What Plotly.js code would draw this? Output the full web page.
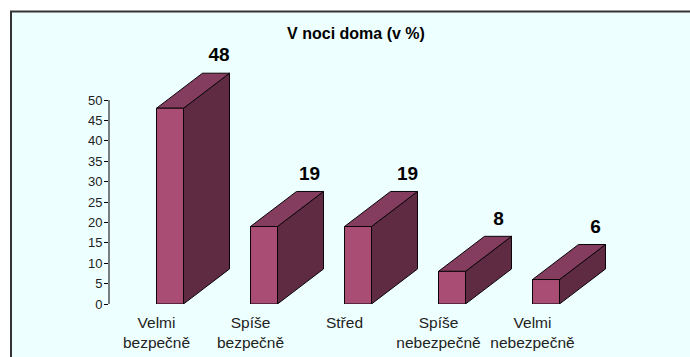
<!DOCTYPE html>
<html>
<head>
<meta charset="utf-8">
<script src="https://cdn.plot.ly/plotly-3.0.1.min.js"></script>
<style>html,body{margin:0;padding:0;background:#fff}#c{width:690px;height:357px}</style>
</head>
<body>
<div id="c"></div>
<script>
const categories = ["Velmi<br>bezpečně","Spíše<br>bezpečně","Střed","Spíše<br>nebezpečně","Velmi<br>nebezpečně"];
const values = [48,19,19,8,6];
const yTicks = [0,5,10,15,20,25,30,35,40,45,50];

const W=690,H=357,L=109,R=60,T=30,B=53.3;
const pxX=94, pxY=203.7/50;
const barW=27/pxX, dX=46/pxX, dY=35/pxY;
const x0=(156.5-L)/pxX;
const pw=W-L-R,ph=H-T-B;
const FRONT='#A94D75',TOP='#843D5F',SIDE='#5F2B43',EDGE='#0b0508';
const font='"Liberation Sans", Arial, sans-serif';
const labelDx=[62.5,59,63,60,63];

function poly(xs,ys,fc){return {type:'scatter',mode:'lines',x:xs,y:ys,fill:'toself',fillcolor:fc,
  line:{color:EDGE,width:1,shape:'linear'},hoverinfo:'skip',showlegend:false};}
const traces=[];
categories.forEach((c,i)=>{
  const v=values[i];
  traces.push(poly([i+barW,i+barW+dX,i+barW+dX,i+barW,i+barW],[0,dY,v+dY,v,0],SIDE));
  traces.push(poly([i,i+dX,i+dX+barW,i+barW,i],[v,v+dY,v+dY,v,v],TOP));
  traces.push(poly([i,i+barW,i+barW,i,i],[0,0,v,v,0],FRONT));
});
traces.push({type:'scatter',mode:'text',x:values.map((v,i)=>i+labelDx[i]/pxX),y:values.map(v=>v+dY+16.5/pxY),
  text:values.map(String),textposition:'middle center',textfont:{family:font,size:19,color:'#000',weight:700},
  cliponaxis:false,hoverinfo:'skip',showlegend:false});

const layout={width:W,height:H,margin:{l:L,r:R,t:T,b:B,pad:0,autoexpand:false},
  paper_bgcolor:'#fff',plot_bgcolor:'rgba(0,0,0,0)',showlegend:false,font:{family:font,color:'#111'},
  title:{text:'<b>V noci doma (v %)</b>',font:{family:font,size:16,color:'#000'},x:356/W,xref:'container',xanchor:'center',y:1-33/H,yref:'container',yanchor:'middle'},
  xaxis:{range:[-x0,-x0+pw/pxX],tickmode:'array',tickvals:categories.map((c,i)=>i),ticktext:categories,
    showgrid:false,zeroline:false,showline:false,ticks:'',ticklen:0,tickangle:0,ticklabelstandoff:7,
    tickfont:{family:font,size:15.5,color:'#222'},fixedrange:true},
  yaxis:{range:[0,ph/pxY],tickmode:'array',tickvals:yTicks,ticktext:yTicks.map(String),showgrid:false,zeroline:false,
    showline:false,ticks:'outside',ticklen:4,tickwidth:1,tickcolor:'#000',ticklabelstandoff:-1,
    tickfont:{family:font,size:13,color:'#222'},fixedrange:true},
  shapes:[
   {type:'rect',layer:'below',xref:'paper',yref:'paper',
    x0:(11-L)/pw,x1:(W+5-L)/pw,y0:-(H+5-(H-B))/ph,y1:((H-B)-11.5)/ph,
    fillcolor:'#EEFFFF',line:{color:'#333',width:2}},
   {type:'line',layer:'above',xref:'paper',yref:'y',x0:0,x1:0,y0:0,y1:50,line:{color:'#000',width:1}}
  ]
};
Plotly.newPlot('c',traces,layout,{displayModeBar:false,staticPlot:true});
</script>
</body>
</html>
